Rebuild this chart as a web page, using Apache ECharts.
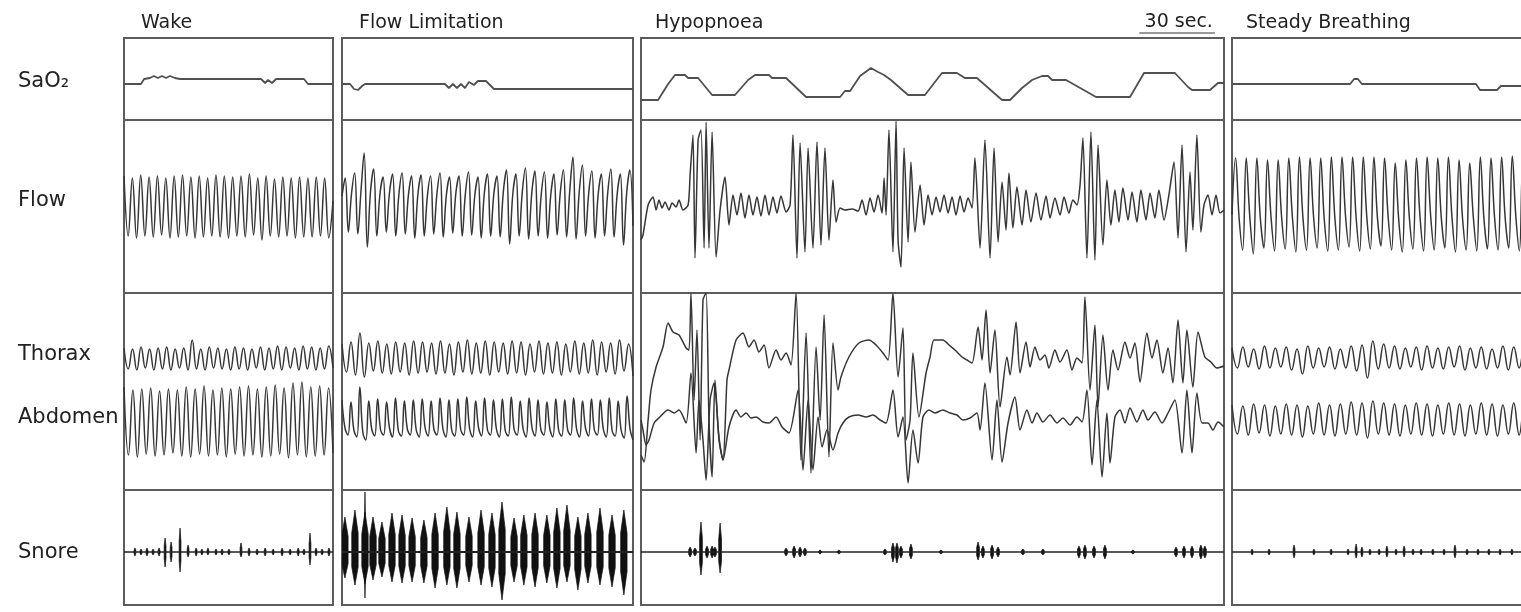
<!DOCTYPE html>
<html><head><meta charset="utf-8">
<script src="https://cdn.jsdelivr.net/npm/echarts@6/dist/echarts.min.js"></script>
<style>html,body{margin:0;padding:0;background:#fff}#c{width:1521px;height:612px}</style>
</head><body><div id="c"></div><script>
// ---------------- DATA ----------------
const panelTitles = ['Wake', 'Flow Limitation', 'Hypopnoea', 'Steady Breathing'];
const rowLabels = ['SaO₂', 'Flow', 'Thorax', 'Abdomen', 'Snore'];
const panelSeconds = [93.6, 130.4, 262.4, 133.5];
const scaleBar = { end: 258.3, len: 34, label: '30 sec.' };

// SaO2 (%), [time s, value]
const sao2Wake = [[0,97.0],[7.6,97.0],[9.0,97.5],[11.6,97.6],[13.4,97.8],[15.2,97.6],[17.0,97.8],[18.8,97.6],[20.6,97.8],[22.8,97.6],[25.1,97.5],[61.4,97.5],[63.2,97.1],[64.5,97.4],[66.3,97.1],[68.1,97.5],[80.6,97.5],[82.4,97.0],[93.6,97.0]];
const sao2FL = [[0,97.0],[3.6,97.0],[5.4,96.5],[7.2,96.4],[9.0,96.8],[10.3,97.0],[46.1,97.0],[47.9,96.6],[49.7,97.0],[51.5,96.6],[53.3,97.0],[55.1,96.6],[56.9,97.2],[59.1,96.9],[60.9,97.3],[64.5,97.3],[66.3,96.9],[68.1,96.5],[130.4,96.5]];
const sao2Hyp = [[0,95.4],[7.7,95.4],[12.2,97.0],[15.3,97.9],[19.8,97.9],[21.2,97.6],[25.7,97.6],[32.0,95.9],[42.3,95.9],[48.2,97.4],[51.3,97.9],[57.6,97.9],[59.0,97.6],[65.3,97.6],[74.3,95.7],[89.6,95.7],[91.8,96.3],[94.1,96.3],[98.6,97.8],[103.5,98.6],[106.7,98.2],[109.4,97.9],[112.5,97.4],[120.2,95.9],[127.8,95.9],[132.3,97.2],[135.5,98.1],[142.2,98.1],[145.8,97.6],[151.2,97.6],[158.9,96.1],[162.5,95.4],[166.1,95.4],[169.7,96.2],[171.5,96.6],[176.0,97.4],[180.5,97.8],[183.2,97.8],[185.0,97.4],[191.3,97.4],[204.8,95.7],[220.1,95.7],[226.4,98.1],[240.3,98.1],[246.2,96.7],[248.0,96.4],[256.1,96.4],[259.7,97.1],[262.4,97.1]];
const sao2Steady = [[0,97.0],[52.9,97.0],[54.7,97.5],[56.4,97.5],[58.2,97.0],[109.3,97.0],[111.1,96.4],[118.7,96.4],[120.5,96.8],[133.5,96.8]];

// Flow (a.u., evenly sampled half-breaths for regular panels)
const flowWake = [30,-30,28,-32,31,-30,29,-31,30,-29,28,-32,30,-31,31,-30,29,-32,30,-31,28,-30,31,-31,30,-32,29,-30,30,-31,32,-29,28,-34,30,-30,27,-31,29,-30,28,-32,29,-31,28,-31,29,-30,28,-32,5];
const flowFL = [10,28,-26, 12,33,-28, 15,53,-41, 14,37,-30, 12,29,-26, 13,32,-30, 12,33,-28, 11,30,-32, 12,31,-30, 10,30,-28, 12,33,-31, 11,29,-27, 13,30,-30, 12,34,-29, 11,29,-32, 13,32,-30, 12,30,-31, 14,36,-38, 12,32,-30, 14,38,-33, 13,35,-30, 12,34,-32, 11,32,-29, 13,36,-31, 15,49,-33, 14,41,-30, 13,35,-32, 12,32,-30, 13,37,-31, 12,32,-39, 13,36,-20];
const flowHyp = [[0,-34],[0.9,-29],[3.2,1],[5.4,9],[6.8,-4],[8.1,6],[9.5,-2],[10.8,4],[12.6,-4],[14.0,3],[15.8,-1],[17.1,6],[18.9,-4],[21.2,1],
[22.1,31],[23.4,71],[24.3,-52],[25.7,66],[27.0,76],[28.4,-42],[29.3,84],[30.6,-42],[32.0,74],[33.8,-51],[35.6,-4],[37.8,29],[39.6,-19],
[41.4,11],[43.2,-9],[45.0,13],[46.8,-12],[48.6,11],[50.4,-9],[52.2,9],[54.0,-10],[55.8,11],[57.6,-9],[59.4,9],[61.2,-7],[63.0,10],[65.3,-6],[67.1,1],
[68.4,71],[70.2,-52],[71.6,63],[73.8,-46],[75.2,58],[77.4,-42],[79.2,64],[81.0,-39],[82.8,58],[84.6,-34],[86.4,26],[87.8,-16],[89.6,-2],
[91.8,-4],[95.0,-3],[97.7,-5],[99.5,6],[101.3,-9],[103.1,8],[104.9,-6],[106.7,11],[108.5,-7],
[109.4,28],[110.3,-9],[111.6,76],[113.4,-46],[114.8,85],[115.7,-34],[117.0,-61],[118.4,58],[120.2,-36],[121.5,44],[123.3,-26],[125.6,21],[127.4,-19],
[129.2,11],[131.0,-9],[132.8,9],[134.6,-6],[136.4,11],[138.2,-7],[140.0,9],[141.8,-9],[143.6,10],[145.4,-6],[147.2,8],[149.0,-2],
[150.3,48],[152.6,-42],[154.8,66],[157.1,-52],[158.9,58],[160.7,-36],[162.5,24],[164.3,-24],[165.6,33],[167.4,-22],[169.2,19],[171.5,-19],[173.3,16],[175.5,-16],[177.8,13],[180.0,-14],[182.3,10],[184.1,-12],[186.3,8],[188.6,-9],[190.4,9],[192.6,-7],[194.4,6],[196.2,1],
[197.6,21],[198.9,68],[200.7,-52],[202.5,74],[204.3,-54],[205.7,61],[207.9,-39],[209.7,26],[211.5,-19],
[213.3,16],[215.1,-16],[216.9,18],[219.2,-14],[221.0,14],[223.2,-16],[225.0,16],[227.3,-14],[229.1,13],[231.3,-12],[233.1,16],[235.4,-14],[237.6,11],
[239.9,44],[241.7,-32],[243.5,61],[245.3,-46],[247.1,34],[248.4,-24],[250.2,71],[252.0,-26],[253.4,1],
[255.2,11],[257.0,-9],[258.8,11],[260.6,-7],[262.4,-4]];
const flowSteady = [-9, 48,-12,-44, 48,-10,-48, 48,-13,-42, 46,-11,-45, 46,-12,-43, 48,-10,-46, 49,-12,-44, 48,-11,-42, 48,-13,-45, 49,-12,-44, 49,-10,-41, 49,-12,-45, 49,-11,-43, 49,-12,-40, 48,-10,-44, 43,-14,-46, 46,-12,-43, 48,-11,-45, 49,-10,-44, 48,-12,-42, 49,-11,-46, 46,-13,-44, 43,-10,-45, 49,-12,-43, 48,-11,-44, 49,-12,-42, 50,-10,-45, 48,-12,-43];

// Thorax (a.u.)
const thoraxWake = [10,-11,9,-12,11,-10,9,-12,10,-11,11,-12,9,-10,10,-12,18,-11,9,-12,11,-10,10,-11,9,-12,11,-11,10,-12,9,-10,11,-12,10,-11,12,-12,11,-10,10,-12,12,-11,11,-12,10,-11,12,-10];
const thoraxFL = [14,-14,16,-17,25,-19,15,-13,17,-15,14,-16,16,-14,15,-17,17,-15,16,-14,15,-16,17,-15,14,-17,16,-14,18,-16,15,-15,17,-17,16,-14,15,-16,17,-15,16,-17,14,-14,17,-16,15,-15,16,-17,14,-14,17,-16,15,-15,18,-17,16,-14,15,-16,18,-13,14,-18];
const thoraxHyp = [[0,-97],[1.4,-104],[3.2,-62],[4.5,-32],[6.8,-9],[9.9,11],[12.2,35],[14.4,26],[17.1,23],[20.3,10],[21.6,8],[22.5,65],[23.9,-42],[25.2,28],[26.6,-82],[27.9,58],[29.3,65],[30.6,-62],[32.0,-119],[33.3,-22],[35.1,-82],[36.9,-102],[38.7,-22],[39.6,-12],[42.8,18],[45.9,25],[48.6,11],[50.9,18],[53.1,6],[55.4,13],[57.6,-10],[60.8,8],[63.0,-2],[65.3,5],[67.5,-7],[69.8,65],[72.0,-102],[74.3,25],[76.5,-115],[78.8,11],[80.6,-62],[82.4,43],[84.6,-99],[86.4,15],[88.7,-32],[90.0,-19],[93.6,1],[98.1,15],[102.6,18],[105.8,13],[108.9,5],[111.2,-2],[113.4,65],[115.7,-19],[117.9,30],[119.3,-82],[121.1,-62],[122.4,5],[125.1,-59],[128.3,-15],[130.1,1],[131.9,18],[135.9,18],[138.6,13],[141.3,8],[144.5,1],[146.7,-2],[149.0,-5],[151.7,31],[153.5,-2],[155.3,48],[157.1,-15],[159.3,28],[161.6,-49],[164.7,1],[166.1,-17],[168.8,36],[170.6,-15],[173.3,16],[175.1,-9],[177.3,11],[179.6,-2],[181.8,3],[183.6,-10],[186.3,8],[188.6,-4],[191.7,8],[194.0,-12],[196.2,0],[198.5,-5],[199.8,61],[202.1,-32],[204.3,33],[205.7,-49],[207.9,23],[210.2,-32],[212.4,8],[214.7,-12],[217.8,16],[220.1,0],[222.3,15],[224.6,-24],[227.7,25],[230.0,0],[232.2,18],[234.9,-15],[237.2,10],[239.4,-25],[241.7,38],[243.9,-25],[245.7,28],[248.4,-29],[250.7,26],[253.8,1],[256.5,-4],[259.2,-10],[262.4,-8]];
const thoraxSteady = [10,-10,11,-9,9,-11,12,-10,10,-9,11,-12,9,-16,12,-10,10,-9,11,-11,9,-10,12,-13,13,-20,17,-11,14,-10,12,-11,10,-9,11,-12,12,-10,10,-11,11,-9,12,-12,10,-10,11,-11,9,-10,12,-12,11,-10,13,-9];

// Abdomen (a.u.)
const abdomenWake = [33,-35,30,-37,31,-34,32,-36,29,-35,31,-33,30,-36,33,-37,31,-34,34,-36,30,-35,32,-37,31,-34,33,-36,34,-35,31,-37,33,-36,35,-34,32,-38,37,-35,38,-37,33,-36,34,-35,32,-33];
const abdomenFL = [20,-8,-15, 18,-10,-17, 33,-12,-20, 19,-9,-16, 21,-10,-15, 18,-8,-17, 22,-11,-16, 19,-9,-15, 20,-10,-17, 21,-8,-16, 19,-10,-15, 22,-9,-17, 20,-11,-16, 21,-10,-15, 23,-9,-17, 19,-8,-16, 22,-10,-15, 20,-9,-17, 21,-11,-16, 23,-10,-15, 19,-9,-17, 22,-8,-16, 20,-10,-15, 18,-9,-17, 21,-11,-16, 20,-10,-15, 22,-9,-17, 19,-8,-16, 21,-10,-15, 20,-9,-17, 22,-11,-16, 19,-10,-18, 24,-9,-20];
const abdomenHyp = [[0,0],[0.9,-10],[2.3,-25],[3.6,-20],[5.9,-3],[8.1,2],[12.2,10],[14.9,7],[17.1,10],[20.3,-3],[22.5,47],[24.8,-33],[26.1,20],[27.9,-20],[29.3,-60],[31.1,20],[32.9,37],[35.1,-17],[36.9,-40],[39.6,-7],[42.8,10],[45.0,3],[47.3,7],[49.5,2],[51.8,3],[54.9,-2],[57.6,-3],[60.8,3],[63.5,-7],[66.6,-13],[70.7,30],[72.9,-50],[75.2,20],[77.4,-50],[79.7,3],[81.5,-27],[83.7,-10],[86.4,-30],[88.7,-13],[90.9,-3],[93.6,3],[97.7,5],[101.3,3],[104.4,5],[107.6,0],[110.3,-3],[113.4,30],[115.7,-17],[117.9,3],[120.2,-63],[122.4,-10],[124.7,-43],[126.9,3],[129.6,10],[132.3,7],[135.9,10],[139.1,7],[142.2,5],[144.9,0],[148.1,2],[151.2,7],[152.6,-10],[154.8,37],[158.0,-40],[160.2,20],[162.5,-42],[165.2,-3],[168.3,23],[170.6,-10],[173.7,10],[176.0,-3],[178.2,7],[180.9,-2],[184.1,5],[187.2,-3],[189.9,2],[193.1,-5],[196.2,3],[198.5,-2],[200.7,30],[203.0,-45],[205.2,20],[207.5,-57],[209.7,7],[211.1,-43],[213.3,3],[215.6,10],[217.8,-3],[220.1,12],[223.2,-2],[225.9,10],[228.2,0],[231.3,8],[234.5,-3],[237.2,7],[240.3,20],[243.5,-33],[245.7,30],[248.0,-33],[250.2,27],[252.5,-3],[255.2,-3],[257.4,-10],[259.7,-2],[262.4,-7]];
const abdomenSteady = [15,-14,14,-15,16,-13,15,-16,14,-14,16,-15,15,-17,14,-14,17,-15,15,-16,16,-14,18,-15,17,-18,19,-14,17,-15,16,-16,15,-14,17,-15,16,-16,15,-14,17,-15,16,-16,15,-14,17,-15,16,-16,15,-14,17,-15,16,-14];

// Snore bursts: [time s, upper amplitude, lower amplitude]
const snoreWake = [[4.9,4,-4],[7.6,3,-3],[10.3,4,-4],[13.0,3,-3],[15.7,4,-4],[18.4,14,-15],[21.1,10,-10],[25.1,24,-20],[28.7,7,-5],[32.3,4,-4],[34.9,3,-3],[37.6,4,-3],[41.2,3,-3],[43.9,3,-3],[47.0,3,-3],[52.4,9,-5],[56.0,4,-4],[59.6,3,-3],[63.2,4,-4],[66.8,3,-3],[70.8,4,-4],[74.4,3,-3],[78.0,4,-4],[80.6,3,-3],[83.3,19,-13],[86.0,4,-4],[88.7,3,-3],[91.8,4,-4]];
const snoreFL = [[1.3,35,-26],[5.8,42,-33],[10.3,40,-32],[13.9,35,-28],[17.9,30,-25],[22.4,39,-30],[26.9,37,-31],[31.4,34,-30],[36.7,32,-31],[41.7,39,-36],[47.0,45,-33],[51.5,40,-36],[56.9,35,-30],[62.3,42,-33],[67.2,39,-35],[71.7,50,-48],[77.1,34,-30],[81.5,37,-33],[86.5,39,-35],[91.8,37,-31],[96.3,44,-36],[100.8,47,-30],[105.7,35,-38],[110.2,39,-31],[115.6,44,-33],[121.0,37,-35],[126.3,42,-43]];
const snoreFLSpikes = [[10.3,60,-46]];
const snoreHyp = [[22.1,5,-5],[24.3,4,-4],[27.0,30,-23],[29.7,6,-6],[32.0,6,-6],[33.3,5,-5],[35.6,29,-21],[65.3,4,-4],[68.9,6,-6],[71.6,5,-5],[73.8,4,-4],[80.6,2,-2],[89.1,2,-2],[109.8,3,-3],[113.4,9,-10],[115.2,9,-11],[117.0,6,-6],[121.5,8,-7],[135.0,2,-2],[151.7,10,-8],[153.9,6,-6],[158.0,7,-7],[160.7,5,-5],[171.9,3,-3],[180.9,3,-3],[197.1,6,-6],[199.8,7,-7],[203.9,6,-6],[208.8,7,-7],[221.4,2,-2],[240.8,5,-5],[244.4,6,-6],[248.0,6,-6],[252.0,7,-7],[253.8,6,-6]];
const snoreSteady = [[9.0,3,-3],[16.6,3,-3],[27.8,7,-6],[36.7,3,-3],[44.4,3,-3],[52.0,3,-3],[55.6,8,-6],[58.2,5,-5],[61.8,3,-3],[65.9,3,-3],[69.4,6,-5],[73.5,3,-3],[77.1,6,-5],[81.1,3,-3],[84.7,3,-3],[90.0,3,-3],[95.0,3,-3],[99.9,7,-6],[105.3,3,-3],[110.2,3,-3],[115.1,3,-3],[120.1,3,-3],[125.4,3,-3]];

// ---------------- LAYOUT ----------------
const PX = [[124,333],[342,633],[641,1224],[1232,1530]];
const ROWY = { sao2:[38,120], flow:[120,293], resp:[293,490], snore:[490,605] };
const YR = { sao2:[93.4,101.6], flow:[-87,86], thorax:[-132,65], abdomen:[-70,127], snore:[-53,62] };
const FONT = '"DejaVu Sans", Verdana, sans-serif';
const TRACE = '#363636';

const grid = [], xAxis = [], yAxis = [], series = [];
let hypAxisIndex = 0;

function addCell(p, row, yr, border, cat, n) {
  const i = grid.length;
  const [l, r] = PX[p]; const [t, b] = ROWY[row];
  grid.push({ left: l, top: t, width: r - l, height: b - t, show: border, containLabel: false,
    outerBoundsMode: 'none', borderColor: '#5c5c5c', borderWidth: 2, backgroundColor: 'transparent' });
  if (cat) xAxis.push({ gridIndex: i, type: 'category', boundaryGap: false, show: false,
    data: Array.from({ length: n }, (_, k) => k) });
  else xAxis.push({ gridIndex: i, type: 'value', min: 0, max: panelSeconds[p], show: false });
  yAxis.push({ gridIndex: i, type: 'value', min: yr[0], max: yr[1], show: false });
  return i;
}
function trace(p, row, yrKey, data, border, opt) {
  const cat = typeof data[0] === 'number';
  const i = addCell(p, row, YR[yrKey], border, cat, data.length);
  if (p === 2 && row === 'flow') hypAxisIndex = i;
  series.push({ type: 'line', xAxisIndex: i, yAxisIndex: i, data: data, symbol: 'none',
    smooth: opt.smooth, clip: true, silent: true,
    lineStyle: { color: opt.color || TRACE, width: opt.width || 1.5 } });
}
function spindle(hw, color) {
  return function (params, api) {
    const t = api.value(0);
    const a = api.coord([t, api.value(1)]);
    const b = api.coord([t, api.value(2)]);
    const m = api.coord([t, 0]);
    const yu = m[1] - (m[1] - a[1]) * 0.45, yd = m[1] + (b[1] - m[1]) * 0.45;
    const x = a[0];
    return { type: 'polygon', shape: { points: [[x, a[1]], [x + hw, yu], [x + hw, yd], [x, b[1]], [x - hw, yd], [x - hw, yu]] },
      style: { fill: color, stroke: color, lineWidth: 0.7 } };
  };
}
function snore(p, bursts, hw, baseW, extra) {
  const i = addCell(p, 'snore', YR.snore, true, false, 0);
  series.push({ type: 'line', xAxisIndex: i, yAxisIndex: i, data: [[0, 0], [panelSeconds[p], 0]], symbol: 'none',
    silent: true, lineStyle: { color: '#222', width: baseW } });
  series.push({ type: 'custom', xAxisIndex: i, yAxisIndex: i, data: bursts, renderItem: spindle(hw, '#111'),
    clip: true, silent: true, encode: { x: 0, y: 1 } });
  if (extra) series.push({ type: 'custom', xAxisIndex: i, yAxisIndex: i, data: extra, renderItem: spindle(0.6, '#111'),
    clip: true, silent: true, encode: { x: 0, y: 1 } });
}

const sao2 = [sao2Wake, sao2FL, sao2Hyp, sao2Steady];
const flow = [flowWake, flowFL, flowHyp, flowSteady];
const thorax = [thoraxWake, thoraxFL, thoraxHyp, thoraxSteady];
const abdomen = [abdomenWake, abdomenFL, abdomenHyp, abdomenSteady];
for (let p = 0; p < 4; p++) {
  trace(p, 'sao2', 'sao2', sao2[p], true, { smooth: false, color: '#505050', width: 1.8 });
  trace(p, 'flow', 'flow', flow[p], true, { smooth: p === 2 ? 0.25 : 0.4 });
  trace(p, 'resp', 'thorax', thorax[p], true, { smooth: p === 2 ? 0.25 : 0.45 });
  trace(p, 'resp', 'abdomen', abdomen[p], false, { smooth: p === 2 ? 0.25 : 0.45 });
}
snore(0, snoreWake, 0.9, 1.6);
snore(1, snoreFL, 3.2, 2.2, snoreFLSpikes);
snore(2, snoreHyp, 1.4, 1.6);
snore(3, snoreSteady, 0.9, 1.4);

const titleX = [141, 359, 655, 1246];
const graphic = [];
panelTitles.forEach((t, k) => graphic.push({ type: 'text', x: titleX[k], y: 23, silent: true,
  style: { text: t, font: '19px ' + FONT, fill: '#222', align: 'left', verticalAlign: 'middle' } }));
const labelY = [82, 201, 355, 418, 553];
rowLabels.forEach((t, k) => graphic.push({ type: 'text', x: 18, y: labelY[k], silent: true,
  style: { text: t, font: '21px ' + FONT, fill: '#222', align: 'left', verticalAlign: 'middle' } }));

const chart = echarts.init(document.getElementById('c'), null, { renderer: 'canvas' });
chart.setOption({ animation: false, backgroundColor: '#fff', grid, xAxis, yAxis, series, graphic });

// scale bar positioned through the Hypopnoea time axis
const x1 = chart.convertToPixel({ xAxisIndex: hypAxisIndex }, scaleBar.end - scaleBar.len);
const x2 = chart.convertToPixel({ xAxisIndex: hypAxisIndex }, scaleBar.end);
graphic.push({ type: 'line', silent: true, shape: { x1: x1, y1: 33, x2: x2, y2: 33 }, style: { stroke: '#333', lineWidth: 1 } });
graphic.push({ type: 'text', x: x2 - 2, y: 22, silent: true,
  style: { text: scaleBar.label, font: '19px ' + FONT, fill: '#222', align: 'right', verticalAlign: 'middle' } });
chart.setOption({ graphic });
</script></body></html>
